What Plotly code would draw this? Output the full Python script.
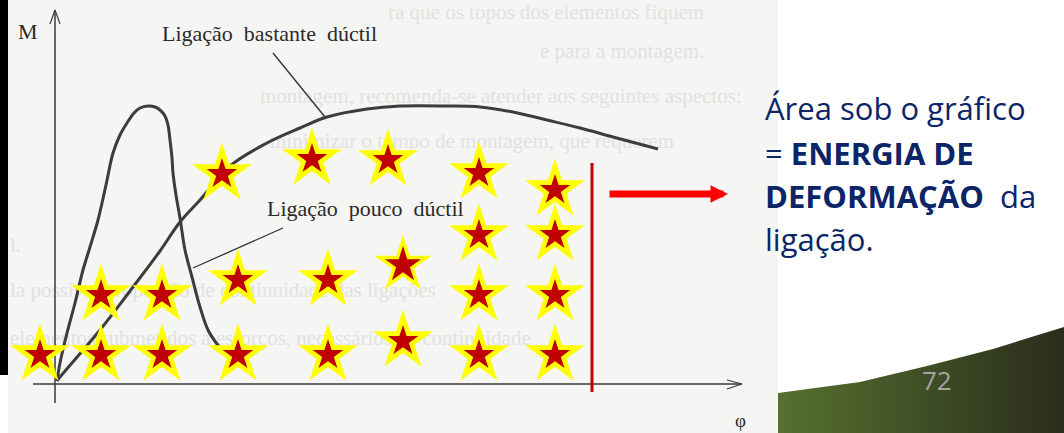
import plotly.graph_objects as go

# coordinates: phi / M measured from the origin of the scanned diagram
# (1 unit ~ 1 px of the slide, origin at the crossing of the axes)

# stars marking the area under the curve
star_phi = [-15, 46, 107, 183, 273, 348, 424, 500,
            46, 107, 183, 273, 424, 500,
            424, 500,
            167, 257, 333, 424, 500]
star_m = [29, 29, 29, 29, 29, 43, 29, 29,
          89, 89, 104, 104, 89, 89,
          149, 149,
          210, 225, 224, 211, 194]
big_star_phi = [348]
big_star_m = [119]

# "Ligação pouco dúctil" curve
low_phi = [2, 5, 12, 20, 28, 35, 43, 51, 58, 65, 72, 79, 85, 93, 100, 105, 110,
           113, 115, 117, 118, 121, 125, 130, 137, 145, 153, 162, 171, 180]
low_m = [3, 21, 51, 81, 114, 137, 164, 199, 231, 249, 261, 271, 276, 278, 277,
         274, 268, 259, 244, 226, 211, 189, 166, 134, 107, 77, 54, 40, 29, 22]

# "Ligação bastante dúctil" curve
high_phi = [2, 5, 45, 78, 105, 125, 145, 175, 212, 245, 272, 312, 345, 392,
            425, 458, 492, 525, 558, 603]
high_m = [3, 7, 54, 97, 133, 162, 184, 218, 241, 256, 267, 275, 278, 278,
          277, 272, 264, 256, 247, 235]

# faint text of the scanned page behind the diagram
ghost_phi = [333, 485, 205, 215, -45, -45, -45]
ghost_m = [370, 331, 286, 241, 137, 92, 44]
ghost_txt = [
    "ra que os topos dos elementos fiquem",
    "e para a montagem.",
    "montagem, recomenda-se atender aos seguintes aspectos:",
    "minimizar o tempo de montagem, que requerem",
    "l.",
    "la possível proporção de continuidade das ligações",
    "elementos submetidos a esforços, necessários de continuidade",
]

# slide footer shape
foot_phi = [723, 805, 872, 938, 1009, 1009, 723, 723]
foot_m = [-9, 2, 18, 35, 57, -49, -49, -9]

fig = go.Figure()

fig.add_trace(go.Scatter(
    x=ghost_phi, y=ghost_m, text=ghost_txt, mode="text",
    textposition="middle right",
    textfont=dict(family="Liberation Serif", size=21, color="#e2e2e0"),
    hoverinfo="skip"))

fig.add_trace(go.Scatter(
    x=foot_phi, y=foot_m, mode="lines", fill="toself", line=dict(width=0),
    fillgradient=dict(type="horizontal",
                      colorscale=[[0, "#56712f"], [1, "#2a2d1c"]]),
    hoverinfo="skip"))

# axes of the diagram
fig.add_trace(go.Scatter(x=[0, 0], y=[-19, 374], mode="lines",
                         line=dict(color="#3a3a3a", width=1.5)))
fig.add_trace(go.Scatter(x=[-22, 687], y=[0, 0], mode="lines",
                         line=dict(color="#3a3a3a", width=1.5)))
fig.add_trace(go.Scatter(x=[-5, 0, 5], y=[360, 374, 360], mode="lines",
                         line=dict(color="#3a3a3a", width=1.2)))
fig.add_trace(go.Scatter(x=[672, 687, 672], y=[4, 0, -5], mode="lines",
                         line=dict(color="#3a3a3a", width=1.2)))

fig.add_trace(go.Scatter(x=low_phi, y=low_m, mode="lines",
                         line=dict(color="#3c3c3c", width=3, shape="spline")))
fig.add_trace(go.Scatter(x=high_phi, y=high_m, mode="lines",
                         line=dict(color="#3c3c3c", width=3, shape="spline")))

# leader lines of the labels
fig.add_trace(go.Scatter(x=[218, 270], y=[331, 267], mode="lines",
                         line=dict(color="#333333", width=1.3)))
fig.add_trace(go.Scatter(x=[228, 138], y=[156, 116], mode="lines",
                         line=dict(color="#333333", width=1.3)))

fig.add_trace(go.Scatter(x=star_phi, y=star_m, mode="markers",
                         marker=dict(symbol="star", size=45, color="#ffff00",
                                     line=dict(width=0))))
fig.add_trace(go.Scatter(x=star_phi, y=star_m, mode="markers",
                         marker=dict(symbol="star", size=23, color="#c00000",
                                     line=dict(width=0))))
fig.add_trace(go.Scatter(x=big_star_phi, y=big_star_m, mode="markers",
                         marker=dict(symbol="star", size=43, color="#ffff00",
                                     line=dict(width=0))))
fig.add_trace(go.Scatter(x=big_star_phi, y=big_star_m, mode="markers",
                         marker=dict(symbol="star", size=27, color="#c00000",
                                     line=dict(width=0))))

serif = dict(family="Liberation Serif", size=22, color="#2a2a2a")
sans = dict(family="Open Sans", size=31, color="#0b2566")
sp = "\u00a0\u00a0"

annotations = [
    dict(x=-27, y=353, text="M", font=serif, xanchor="center"),
    dict(x=105, y=351, text=sp.join(["Ligação", "bastante", "dúctil"]),
         font=serif, xanchor="left"),
    dict(x=210, y=176, text=sp.join(["Ligação", "pouco", "dúctil"]),
         font=serif, xanchor="left"),
    dict(x=685, y=-36, text="φ", font=dict(family="Liberation Serif", size=19,
                                            color="#2a2a2a"), xanchor="center"),
    dict(x=708, y=276, text="Área sob o gráfico", font=sans, xanchor="left"),
    dict(x=708, y=231, text="= <b>ENERGIA DE</b>", font=sans, xanchor="left"),
    dict(x=708, y=188, text="<b>DEFORMAÇÃO</b>  da", font=sans, xanchor="left"),
    dict(x=708, y=145, text="ligação.", font=sans, xanchor="left"),
    dict(x=882, y=4, text="72", xanchor="center",
         font=dict(family="Open Sans", size=26, color="#a3a3a3")),
    # red arrow pointing to the text
    dict(x=673, y=190, ax=553, ay=190, axref="x", ayref="y", text="",
         showarrow=True, arrowhead=2, arrowsize=0.5, arrowwidth=7,
         arrowcolor="#ff0000", standoff=0),
]
for a in annotations:
    a.setdefault("showarrow", False)
    a.setdefault("yanchor", "middle")
    a.setdefault("xref", "x")
    a.setdefault("yref", "y")

fig.update_layout(
    width=1064, height=433, autosize=False,
    margin=dict(l=0, r=0, t=0, b=0),
    paper_bgcolor="white", plot_bgcolor="rgba(0,0,0,0)",
    showlegend=False,
    xaxis=dict(range=[-55, 1009], visible=False, fixedrange=True),
    yaxis=dict(range=[-49, 384], visible=False, fixedrange=True),
    annotations=annotations,
    shapes=[
        # scanned page and its dark border
        dict(type="rect", xref="paper", yref="paper", x0=8 / 1064, x1=778 / 1064,
             y0=0, y1=1, fillcolor="#f5f5f3", line=dict(width=0), layer="below"),
        dict(type="rect", xref="paper", yref="paper", x0=0, x1=8 / 1064,
             y0=58 / 433, y1=1, fillcolor="#000000", line=dict(width=0), layer="below"),
        # limit of the area
        dict(type="line", xref="x", yref="y", x0=537, x1=537, y0=-8, y1=221,
             line=dict(color="#c00000", width=3)),
    ],
)

fig.write_html("out.html", config={"displayModeBar": False},
               post_script="document.body.style.margin='0';"
                           "document.body.style.overflow='hidden';")
